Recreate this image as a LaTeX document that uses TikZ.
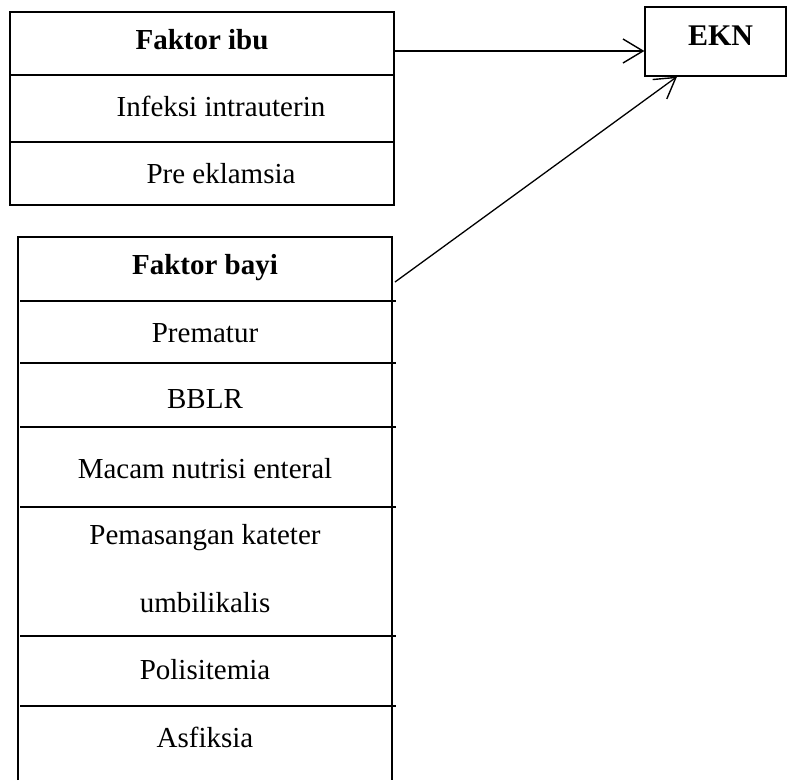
\documentclass[tikz,border=0pt]{standalone}
\usepackage{fontspec}
\setmainfont{Liberation Serif}
\usetikzlibrary{arrows.meta}
\begin{document}
\begin{tikzpicture}[x=1pt,y=-1pt,line width=1.3pt,
  lbl/.style={anchor=base,inner sep=0pt,font=\fontsize{29}{35}\selectfont},
  blbl/.style={lbl,font=\fontsize{29}{35}\selectfont\bfseries},
  box/.style={draw,rectangle,inner sep=0pt},
  arr/.style={-{Straight Barb[length=20pt,width=24pt,line width=1.4pt]}}]
\useasboundingbox (0,0) rectangle (787,780);
% top box (Faktor ibu)
\node[box,minimum width=384pt,minimum height=193pt] (ibubox) at (202,108.5) {};
\draw (10,75) -- (394,75);
\draw (10,142) -- (394,142);
\node[blbl] (fibu) at (202,49) {Faktor ibu};
\node[lbl] (infeksi) at (221,116) {Infeksi intrauterin};
\node[lbl] (pre) at (221,183) {Pre eklamsia};
% EKN box
\node[box,minimum width=141pt,minimum height=69pt] (ekn) at (715.5,41.5) {};
\node[blbl,font=\fontsize{30}{36}\selectfont\bfseries] (ekntxt) at (720.5,45) {EKN};
% bottom box (Faktor bayi)
\coordinate (btl) at (18,237);
\coordinate (btr) at (392,237);
\draw (18,780) -- (btl) -- (btr) -- (392,780);
\foreach \yy in {301,363,427,507,636,706} \draw (20,\yy) -- (396,\yy);
\node[blbl] (fbayi) at (205,274) {Faktor bayi};
\node[lbl] (prematur) at (205,342) {Prematur};
\node[lbl] (bblr) at (205,408) {BBLR};
\node[lbl] (macam) at (205,478) {Macam nutrisi enteral};
\node[lbl] (pemasangan) at (205,544) {Pemasangan kateter};
\node[lbl] (umbil) at (205,612) {umbilikalis};
\node[lbl] (polis) at (205,679) {Polisitemia};
\node[lbl] (asfiksia) at (205,747) {Asfiksia};
% connectors
\coordinate (bstart) at (395,282);
\draw[arr] (ibubox.east |- 0,51) -- (ekn.west |- 0,51);
\draw[arr] (bstart) -- (ekn.south -| 677,0);
\end{tikzpicture}
\end{document}
